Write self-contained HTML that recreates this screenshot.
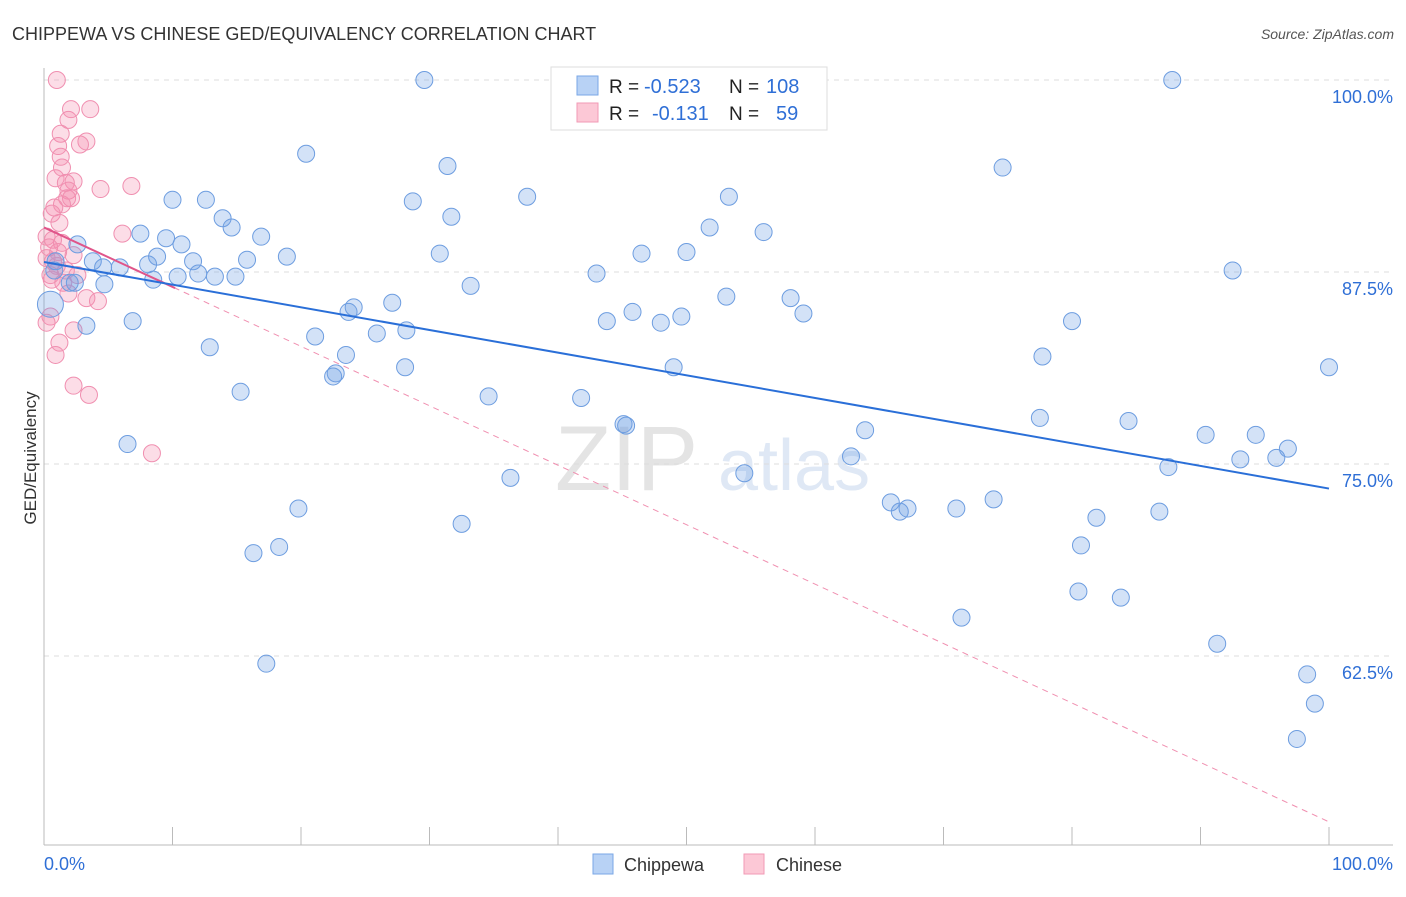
<!DOCTYPE html>
<html><head><meta charset="utf-8"><style>
body{margin:0;background:#fff;font-family:"Liberation Sans",sans-serif;}
svg text{font-family:"Liberation Sans",sans-serif;}
</style></head><body>
<svg id="c" width="1406" height="892" viewBox="0 0 1406 892">
<text x="12" y="40" font-size="18" fill="#333">CHIPPEWA VS CHINESE GED/EQUIVALENCY CORRELATION CHART</text>
<text x="1394" y="39" font-size="14" fill="#555" text-anchor="end" font-style="italic">Source: ZipAtlas.com</text>
<g>
<text x="555" y="490" font-size="92" fill="#e4e4e4" font-family="Liberation Serif">ZIP</text>
<text x="718" y="490" font-size="72" fill="#dfe8f5">atlas</text>
</g>
<g id="grid"></g>
<g id="axes"></g>
<g id="pts"></g>
<g id="trend"></g>
<text x="36" y="458" font-size="17" fill="#333" text-anchor="middle" transform="rotate(-90 36 458)">GED/Equivalency</text>
<g>
<rect x="551" y="67" width="276" height="63" fill="#fff" stroke="#ddd"/>
<rect x="577" y="76" width="21" height="19" fill="#b8d2f5" stroke="#7aa7e6"/>
<rect x="577" y="103" width="21" height="19" fill="#fcc8d6" stroke="#f29ab5"/>
<text x="609" y="93" font-size="19" fill="#222">R =</text>
<text x="644" y="93" font-size="20" fill="#2f6fd6">-0.523</text>
<text x="729" y="93" font-size="19" fill="#222">N =</text>
<text x="766" y="93" font-size="20" fill="#2f6fd6">108</text>
<text x="609" y="120" font-size="19" fill="#222">R =</text>
<text x="652" y="120" font-size="20" fill="#2f6fd6">-0.131</text>
<text x="729" y="120" font-size="19" fill="#222">N =</text>
<text x="776" y="120" font-size="20" fill="#2f6fd6">59</text>
</g>
<g>
<rect x="593" y="854" width="20" height="20" fill="#b8d2f5" stroke="#7aa7e6"/>
<text x="624" y="871" font-size="18" fill="#333">Chippewa</text>
<rect x="744" y="854" width="20" height="20" fill="#fcc8d6" stroke="#f29ab5"/>
<text x="776" y="871" font-size="18" fill="#333">Chinese</text>
</g>
</svg>
<script>
const yTicks=[100,87.5,75,62.5];
const yTickLabels=["100.0%","87.5%","75.0%","62.5%"];
const xTickLabels=["0.0%","100.0%"];
const chippewaX=[29.6,87.8,20.4,31.4,74.6,37.6,10.0,12.6,28.7,53.3,31.7,13.9,14.6,51.8,56.0,7.5,16.9,9.5,10.7,2.6,30.8,46.5,50.0,18.9,8.8,15.8,11.6,3.8,8.1,5.9,4.6,0.9,0.8,43.0,92.5,8.5,10.4,12.0,13.3,14.9,4.7,2.4,2.0,33.2,53.1,58.1,27.1,24.1,23.7,45.8,59.1,43.8,48.0,49.6,80.0,6.9,3.3,21.1,25.9,28.2,12.9,23.5,77.7,28.1,49.0,22.7,22.5,100,15.3,34.6,41.8,45.1,45.3,84.4,77.5,63.9,6.5,90.4,94.3,96.8,95.9,62.8,93.1,87.5,54.5,36.3,65.9,66.6,67.2,71.0,73.9,19.8,86.8,81.9,32.5,16.3,18.3,80.7,80.5,83.8,71.4,17.3,91.3,98.3,98.9,97.5,0.5];
const chippewaY=[100,100,95.2,94.4,94.3,92.4,92.2,92.2,92.1,92.4,91.1,91.0,90.4,90.4,90.1,90.0,89.8,89.7,89.3,89.3,88.7,88.7,88.8,88.5,88.5,88.3,88.2,88.2,88.0,87.8,87.8,88.2,87.6,87.4,87.6,87.0,87.2,87.4,87.2,87.2,86.7,86.8,86.8,86.6,85.9,85.8,85.5,85.2,84.9,84.9,84.8,84.3,84.2,84.6,84.3,84.3,84.0,83.3,83.5,83.7,82.6,82.1,82.0,81.3,81.3,80.9,80.7,81.3,79.7,79.4,79.3,77.6,77.5,77.8,78.0,77.2,76.3,76.9,76.9,76.0,75.4,75.5,75.3,74.8,74.4,74.1,72.5,71.9,72.1,72.1,72.7,72.1,71.9,71.5,71.1,69.2,69.6,69.7,66.7,66.3,65.0,62.0,63.3,61.3,59.4,57.1,85.4];
const chineseX=[1.0,2.1,3.6,1.9,1.3,3.3,2.8,1.1,1.3,1.4,0.9,2.3,1.7,6.8,4.4,1.9,1.8,2.1,1.4,0.8,0.6,1.2,6.1,0.2,0.7,1.4,0.4,1.1,2.3,0.2,0.7,1.0,0.5,0.6,1.5,1.9,3.3,4.2,0.5,0.2,2.3,1.2,0.9,2.3,3.5,8.4,2.6,1.7];
const chineseY=[100,98.1,98.1,97.4,96.5,96.0,95.8,95.7,95.0,94.3,93.6,93.4,93.3,93.1,92.9,92.8,92.3,92.3,91.9,91.7,91.3,90.7,90.0,89.8,89.6,89.4,89.1,88.8,88.6,88.4,88.2,87.9,87.3,87.0,86.8,86.1,85.8,85.6,84.6,84.2,83.7,82.9,82.1,80.1,79.5,75.7,87.3,87.6];
const chippewaTrend=[88.15,73.4];
const chineseTrend=[90.4,51.7];
const chineseSolidEnd=10.2;
const NS="http://www.w3.org/2000/svg";
const X=v=>44+v*12.85;
const Y=v=>80+(100-v)*15.36;
function mk(tag,attrs,parent){const e=document.createElementNS(NS,tag);for(const k in attrs)e.setAttribute(k,attrs[k]);document.getElementById(parent).appendChild(e);return e;}
yTicks.forEach((t,i)=>{
 const g=mk('line',{x1:44,x2:1393,y1:Y(t),y2:Y(t),stroke:'#ddd','stroke-dasharray':'5,5'},'grid');
 
 
 const l=mk('text',{x:1393,y:Y(t)+23,'font-size':18,fill:'#2f6fd6','text-anchor':'end'},'axes');
 l.textContent=yTickLabels[i];
 
 
});
const ax=mk('line',{x1:44,x2:44,y1:68,y2:845,stroke:'#bbb'},'axes');


const bx=mk('line',{x1:44,x2:1393,y1:845,y2:845,stroke:'#bbb'},'axes');


for(let i=1;i<=10;i++){const t=mk('line',{x1:X(i*10),x2:X(i*10),y1:827,y2:845,stroke:'#bbb'},'axes');
 
 }
[[0,'start',44],[1,'end',1393]].forEach(([i,a,x])=>{const t=mk('text',{x:x,y:870,'font-size':18,fill:'#2f6fd6','text-anchor':a},'axes');t.textContent=xTickLabels[i];
 
 });
chineseX.forEach((v,i)=>{const c=mk('circle',{cx:X(v),cy:Y(chineseY[i]),r:8.5,fill:'rgba(244,143,177,0.3)',stroke:'#f08fb0','stroke-width':1},'pts');
 
 });
chippewaX.forEach((v,i)=>{const c=mk('circle',{cx:X(v),cy:Y(chippewaY[i]),r:i==chippewaX.length-1?13:8.5,fill:'rgba(110,160,230,0.3)',stroke:'#6d9de0','stroke-width':1},'pts');
 
 });
const cy=v=>chineseTrend[0]+(chineseTrend[1]-chineseTrend[0])*v/100;
const d=mk('line',{x1:X(0),y1:Y(chineseTrend[0]),x2:X(100),y2:Y(chineseTrend[1]),stroke:'#f08fb0','stroke-dasharray':'6,5','stroke-width':1},'trend');


const s=mk('line',{x1:X(0),y1:Y(chineseTrend[0]),x2:X(chineseSolidEnd),y2:Y(cy(chineseSolidEnd)),stroke:'#e0558a','stroke-width':2},'trend');


const b=mk('line',{x1:X(0),y1:Y(chippewaTrend[0]),x2:X(100),y2:Y(chippewaTrend[1]),stroke:'#2a6fd8','stroke-width':2},'trend');


</script>
</body></html>
